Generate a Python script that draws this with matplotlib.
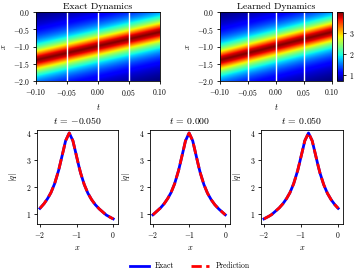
import numpy as np
import matplotlib
matplotlib.use("Agg")
import matplotlib.pyplot as plt

plt.rcParams.update({
    "font.family": "serif",
    "font.serif": ["cmr10", "DejaVu Serif"],
    "mathtext.fontset": "cm",
    "axes.formatter.use_mathtext": True,
    "font.size": 6,
    "axes.linewidth": 0.6,
    "xtick.major.width": 0.6,
    "ytick.major.width": 0.6,
    "xtick.major.size": 2.5,
    "ytick.major.size": 2.5,
})

# |q| profile vs distance from the peak
profile_d = [0.0, 0.1, 0.2, 0.3, 0.4, 0.5, 0.6, 0.7, 0.8, 0.9, 1.0, 1.1, 1.2, 1.3, 1.4, 1.5]
profile_q = [4.0, 3.71, 3.12, 2.56, 2.12, 1.79, 1.55, 1.36, 1.21, 1.09, 0.97, 0.89, 0.82, 0.76, 0.71, 0.66]

# peak location drift over time
peak_x_at_t0 = -1.0
peak_speed = 4.0

t_range = [-0.10, 0.10]
x_range = [-2.0, 0.0]
slice_times = [-0.05, 0.0, 0.05]
slice_peaks = [-1.2, -1.0, -0.8]

x = np.linspace(x_range[0], x_range[1], 201)
t = np.linspace(t_range[0], t_range[1], 201)
T, X = np.meshgrid(t, x)
C = peak_x_at_t0 + peak_speed * T
Q = np.interp(np.abs(X - C), profile_d, profile_q)

W, H = 355, 273
fig = plt.figure(figsize=(W / 100, H / 100), dpi=100)

def ax_rect(x0, y0, x1, y1):
    return [x0 / W, 1 - y1 / H, (x1 - x0) / W, (y1 - y0) / H]

vmin, vmax = Q.min(), Q.max()
ax1 = fig.add_axes(ax_rect(36, 12, 160, 81))
ax2 = fig.add_axes(ax_rect(220, 12, 332, 81))
cax = fig.add_axes(ax_rect(337, 12, 343, 81))
for ax, title in [(ax1, "Exact Dynamics"), (ax2, "Learned Dynamics")]:
    im = ax.imshow(Q, origin="lower", aspect="auto", cmap="jet",
                   extent=[t_range[0], t_range[1], x_range[0], x_range[1]],
                   vmin=vmin, vmax=vmax, interpolation="bilinear")
    for ts in slice_times:
        ax.axvline(ts, color="white", lw=1.0)
    ax.set_title(title, fontsize=7, pad=2)
    ax.set_xlabel("$t$", labelpad=3)
    ax.set_ylabel("$x$", labelpad=3.5)
    ax.set_xticks([-0.10, -0.05, 0.0, 0.05, 0.10])
    ax.set_xticklabels(["$-0.10$", "$-0.05$", "$0.00$", "$0.05$", "$0.10$"])
    ax.set_yticks([0.0, -0.5, -1.0, -1.5, -2.0])
    ax.set_yticklabels(["$0.0$", "$-0.5$", "$-1.0$", "$-1.5$", "$-2.0$"])
    ax.tick_params(labelsize=5.5, pad=1.5)
cb = fig.colorbar(im, cax=cax)
cb.set_ticks([1, 2, 3])
cb.ax.tick_params(labelsize=5.5, pad=1.5)

bottom_x = [(37, 118), (150, 230), (261, 343)]
for (x0, x1), ts, pk in zip(bottom_x, slice_times, slice_peaks):
    ax = fig.add_axes(ax_rect(x0, 130, x1, 224))
    q = np.interp(np.abs(x - pk), profile_d, profile_q)
    ax.plot(x, q, color="blue", lw=2.0, label="Exact")
    ax.plot(x, q, color="red", lw=2.0, ls="--", label="Prediction")
    ax.set_title("$t$ = %.3f" % ts if ts >= 0 else "$t$ = $-$%.3f" % abs(ts), fontsize=7, pad=4)
    ax.set_xlabel("$x$", labelpad=3)
    ax.set_ylabel("$|q|$", labelpad=5)
    ax.set_xticks([-2, -1, 0])
    ax.set_xticklabels(["$-2$", "$-1$", "$0$"])
    ax.set_yticks([1, 2, 3, 4])
    ax.set_yticklabels(["$1$", "$2$", "$3$", "$4$"])
    ax.set_xlim(-2.08, 0.13)
    ax.set_ylim(0.63, 4.11)
    ax.tick_params(labelsize=5.5, pad=1.5)
    handles = ax.get_legend_handles_labels()

fig.legend(*handles, loc="center", bbox_to_anchor=(190 / W, 1 - 266 / H), ncol=2,
           frameon=False, fontsize=5.5, handlelength=2.4, handletextpad=0.8,
           columnspacing=2.2)

fig.savefig("out.png", dpi=100)
